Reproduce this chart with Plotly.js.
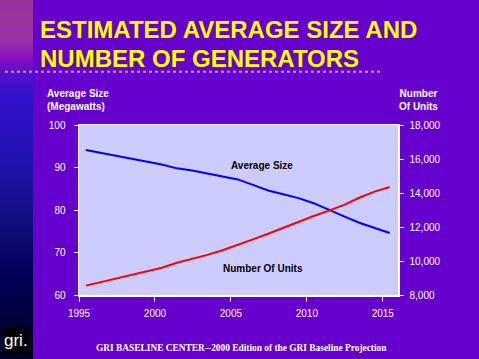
<!DOCTYPE html>
<html>
<head>
<meta charset="utf-8">
<script src="https://cdn.plot.ly/plotly-3.0.1.min.js"></script>
<style>
html,body{margin:0;padding:0;background:#6600CC;overflow:hidden;}
#strip{position:absolute;left:0;top:0;width:33px;height:359px;
background:linear-gradient(to bottom,#993399 0px,#9933A6 40px,#8A11C4 58px,#5A10CC 72px,#3311CC 95px,#2211B0 160px,#101080 220px,#000055 280px,#000022 359px);}
#chart{position:absolute;left:0;top:0;width:479px;height:359px;}
</style>
</head>
<body>
<div id="strip"></div>
<div id="chart"></div>
<script>
// Data
const years = [1995,1996,1997,1998,1999,2000,2001,2002,2003,2004,2005,2006,2007,2008,2009,2010,2011,2012,2013,2014,2015];
const averageSizeMW = [94.1,93.4,92.8,92.1,91.4,90.7,89.8,89.3,88.6,87.9,87.2,85.9,84.6,83.7,82.8,81.6,80.0,78.5,77.0,75.8,74.6];
const numberOfUnits = [8550,8760,8970,9170,9380,9600,9900,10120,10360,10630,10930,11270,11600,11950,12320,12650,12960,13300,13720,14080,14350];
const xTickVals = [1995,2000,2005,2010,2015];
const leftTickVals = [60,70,80,90,100];
const rightTickVals = [8000,10000,12000,14000,16000,18000];

// points plotted at mid-year
const xMid = years.map(y => y + 0.45);

const sans = 'Arial, "Liberation Sans", sans-serif';
const traces = [
  {x: xMid, y: averageSizeMW, type: 'scatter', mode: 'lines', name: 'Average Size',
   line: {color: '#0000FF', width: 2}, yaxis: 'y'},
  {x: xMid, y: numberOfUnits, type: 'scatter', mode: 'lines', name: 'Number Of Units',
   line: {color: '#FF0000', width: 2}, yaxis: 'y2'}
];

const white = '#FFFFFF';
const layout = {
  width: 479, height: 359,
  margin: {l: 79, r: 81, t: 125, b: 64, pad: 0},
  paper_bgcolor: 'rgba(0,0,0,0)',
  plot_bgcolor: '#CCCCFF',
  showlegend: false,
  font: {family: sans, color: white, size: 10},
  xaxis: {range: [1995, 2016], tickvals: xTickVals, ticks: 'outside', ticklen: 5, tickcolor: white,
          showline: true, linecolor: white, linewidth: 1.5, mirror: true, showgrid: false, zeroline: false,
          tickfont: {family: sans, color: white, size: 10}, ticklabelstandoff: 3},
  yaxis: {range: [60, 100], tickvals: leftTickVals, ticks: 'outside', ticklen: 4, tickcolor: white,
          showline: true, linecolor: white, linewidth: 1.5, mirror: true, showgrid: false, zeroline: false,
          tickfont: {family: sans, color: white, size: 10}, ticklabelstandoff: 6},
  yaxis2: {range: [8000, 18000], tickvals: rightTickVals, tickformat: ',d', overlaying: 'y', side: 'right',
          ticks: 'outside', ticklen: 4, tickcolor: white, showline: true, linecolor: white, linewidth: 1.5,
          showgrid: false, zeroline: false, tickfont: {family: sans, color: white, size: 10}, ticklabelstandoff: 4},
  shapes: [
    {type: 'line', xref: 'paper', yref: 'paper', x0: -0.232, x1: 0.95, y0: 1.3135, y1: 1.3135,
     line: {color: '#CC99FF', width: 2, dash: 'dot'}},
    {type: 'rect', xref: 'paper', yref: 'paper', x0: (3-79)/319, x1: (29-79)/319, y0: (295-353)/170, y1: (295-328)/170,
     fillcolor: '#000000', line: {width: 0}}
  ],
  annotations: [
    {text: '<b>ESTIMATED AVERAGE SIZE AND</b>', xref: 'paper', yref: 'paper', x: -0.1285, y: 1.562,
     xanchor: 'left', yanchor: 'middle', showarrow: false, font: {family: sans, size: 24, color: '#FFFF00'}},
    {text: '<b>NUMBER OF GENERATORS</b>', xref: 'paper', yref: 'paper', x: -0.1285, y: 1.392,
     xanchor: 'left', yanchor: 'middle', showarrow: false, font: {family: sans, size: 24, color: '#FFFF00'}},
    {text: '<b>Average Size</b><br><b>(Megawatts)</b>', xref: 'paper', yref: 'paper', x: -0.1066, y: 1.149,
     xanchor: 'left', yanchor: 'middle', align: 'left', showarrow: false, font: {family: sans, size: 10, color: white}},
    {text: '<b>Number</b><br><b>Of Units</b>', xref: 'paper', yref: 'paper', x: 1.0627, y: 1.149,
     xanchor: 'center', yanchor: 'middle', align: 'center', showarrow: false, font: {family: sans, size: 10, color: white}},
    {text: '<b>Average Size</b>', xref: 'paper', yref: 'paper', x: 0.5737, y: 0.7647,
     xanchor: 'center', yanchor: 'middle', showarrow: false, font: {family: sans, size: 10, color: '#000000'}},
    {text: '<b>Number Of Units</b>', xref: 'paper', yref: 'paper', x: 0.5777, y: 0.153,
     xanchor: 'center', yanchor: 'middle', showarrow: false, font: {family: sans, size: 10, color: '#000000'}},
    {text: '<b>GRI BASELINE CENTER--2000 Edition of the GRI Baseline Projection</b>', xref: 'paper', yref: 'paper',
     x: 0.51, y: -0.3118, xanchor: 'center', yanchor: 'middle', showarrow: false,
     font: {family: '"Liberation Serif", "Times New Roman", serif', size: 9.4, color: white}},
    {text: 'gri.', xref: 'paper', yref: 'paper', x: (16-79)/319, y: (295-340)/170,
     xanchor: 'center', yanchor: 'middle', showarrow: false, font: {family: sans, size: 17, color: white}}
  ]
};

Plotly.newPlot('chart', traces, layout, {displayModeBar: false, staticPlot: true});
</script>
</body>
</html>
